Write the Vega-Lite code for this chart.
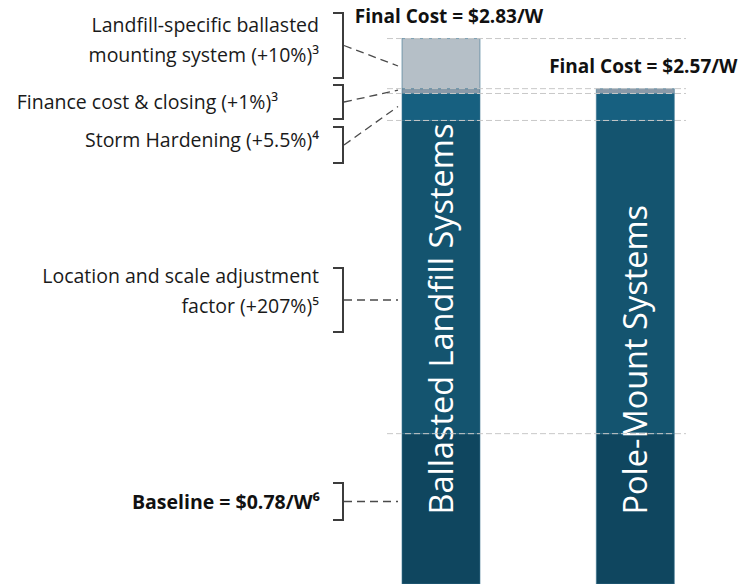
{
  "$schema": "https://vega.github.io/schema/vega-lite/v6.json",
  "width": 746,
  "height": 584,
  "padding": 0,
  "autosize": {"type": "none"},
  "background": "white",
  "config": {"view": {"stroke": null}, "font": "Open Sans"},
  "datasets": {
    "segments": [
      {"system": "Ballasted Landfill Systems", "component": "Baseline", "start": 0, "end": 0.78},
      {"system": "Ballasted Landfill Systems", "component": "Location and scale adjustment", "start": 0.78, "end": 2.405},
      {"system": "Ballasted Landfill Systems", "component": "Storm Hardening", "start": 2.405, "end": 2.545},
      {"system": "Ballasted Landfill Systems", "component": "Finance cost & closing", "start": 2.545, "end": 2.57},
      {"system": "Ballasted Landfill Systems", "component": "Landfill-specific ballasted mounting system", "start": 2.57, "end": 2.83},
      {"system": "Pole-Mount Systems", "component": "Baseline", "start": 0, "end": 0.78},
      {"system": "Pole-Mount Systems", "component": "Location and scale adjustment", "start": 0.78, "end": 2.405},
      {"system": "Pole-Mount Systems", "component": "Storm Hardening", "start": 2.405, "end": 2.545},
      {"system": "Pole-Mount Systems", "component": "Finance cost & closing", "start": 2.545, "end": 2.57}
    ],
    "systems": [
      {"system": "Ballasted Landfill Systems", "total": 2.83, "final": "Final Cost = $2.83/W"},
      {"system": "Pole-Mount Systems", "total": 2.57, "final": "Final Cost = $2.57/W"}
    ],
    "notes": [
      {"component": "Landfill-specific ballasted mounting system", "label": ["Landfill-specific ballasted", "mounting system (+10%)³"], "bold": false, "label_at": 2.894, "top": 2.9625, "bottom": 2.6253, "mid": 2.7939, "target": 2.6876},
      {"component": "Finance cost & closing", "label": ["Finance cost & closing (+1%)³"], "bold": false, "label_at": 2.4977, "top": 2.589, "bottom": 2.4126, "mid": 2.5008, "target": 2.562},
      {"component": "Storm Hardening", "label": ["Storm Hardening (+5.5%)⁴"], "bold": false, "label_at": 2.2969, "top": 2.3711, "bottom": 2.1843, "mid": 2.2777, "target": 2.4774},
      {"component": "Location and scale adjustment", "label": ["Location and scale adjustment", "factor (+207%)⁵"], "bold": false, "label_at": 1.593, "top": 1.6395, "bottom": 1.3075, "mid": 1.4735, "target": 1.4735},
      {"component": "Baseline", "label": ["Baseline = $0.78/W⁶"], "bold": true, "label_at": 0.4223, "top": 0.524, "bottom": 0.332, "mid": 0.428, "target": 0.428}
    ]
  },
  "resolve": {"scale": {"x": "independent"}},
  "layer": [
    {
      "layer": [
        {
          "data": {"name": "segments"},
          "mark": {"type": "bar", "stroke": "#3b7390", "strokeWidth": 0.6},
          "encoding": {
            "x": {"field": "system", "type": "nominal", "axis": null,
                  "scale": {"type": "band", "domain": ["Ballasted Landfill Systems", "Pole-Mount Systems"], "range": [402, 674.3], "paddingInner": 0.5986, "paddingOuter": 0}},
            "y": {"field": "start", "type": "quantitative", "axis": null, "scale": {"domain": [0, 3.03], "nice": false, "zero": true}},
            "y2": {"field": "end"},
            "color": {"field": "component", "type": "nominal", "legend": null,
                      "scale": {"domain": ["Baseline", "Location and scale adjustment", "Storm Hardening", "Finance cost & closing", "Landfill-specific ballasted mounting system"],
                                "range": ["#0f465f", "#14546f", "#176080", "#8a9aa9", "#b5bfc7"]}}
          }
        },
        {
          "data": {"name": "systems"},
          "mark": {"type": "text", "angle": 270, "align": "left", "baseline": "middle", "fontSize": 32.5, "font": "Open Sans", "color": "white", "dy": 2},
          "encoding": {
            "x": {"field": "system", "type": "nominal", "axis": null,
                  "scale": {"type": "band", "domain": ["Ballasted Landfill Systems", "Pole-Mount Systems"], "range": [402, 674.3], "paddingInner": 0.5986, "paddingOuter": 0}},
            "y": {"datum": 0.36, "type": "quantitative"},
            "text": {"field": "system"}
          }
        },
        {
          "data": {"name": "systems"},
          "mark": {"type": "text", "align": "center", "baseline": "alphabetic", "fontSize": 19, "fontWeight": "bold", "color": "#111111", "dy": -15.5, "dx": 8},
          "encoding": {
            "x": {"field": "system", "type": "nominal", "axis": null,
                  "scale": {"type": "band", "domain": ["Ballasted Landfill Systems", "Pole-Mount Systems"], "range": [402, 674.3], "paddingInner": 0.5986, "paddingOuter": 0}},
            "y": {"field": "total", "type": "quantitative"},
            "text": {"field": "final"}
          }
        }
      ]
    },
    {
      "layer": [
        {
          "data": {"name": "segments"},
          "transform": [{"filter": "datum.system === 'Ballasted Landfill Systems'"}],
          "mark": {"type": "rule", "color": "#c8c8c8", "strokeWidth": 1, "strokeDash": [6, 3]},
          "encoding": {
            "x": {"datum": 387, "type": "quantitative", "axis": null, "scale": {"domain": [0, 746], "nice": false, "zero": false}},
            "x2": {"datum": 686},
            "y": {"field": "end", "type": "quantitative"}
          }
        },
        {
          "data": {"name": "notes"},
          "mark": {"type": "rule", "color": "#3c3c3c", "strokeWidth": 2},
          "encoding": {
            "x": {"datum": 343, "type": "quantitative"},
            "y": {"field": "top", "type": "quantitative"},
            "y2": {"field": "bottom"}
          }
        },
        {
          "data": {"name": "notes"},
          "mark": {"type": "rule", "color": "#3c3c3c", "strokeWidth": 2},
          "encoding": {
            "x": {"datum": 333, "type": "quantitative"},
            "x2": {"datum": 344},
            "y": {"field": "top", "type": "quantitative"}
          }
        },
        {
          "data": {"name": "notes"},
          "mark": {"type": "rule", "color": "#3c3c3c", "strokeWidth": 2},
          "encoding": {
            "x": {"datum": 333, "type": "quantitative"},
            "x2": {"datum": 344},
            "y": {"field": "bottom", "type": "quantitative"}
          }
        },
        {
          "data": {"name": "notes"},
          "mark": {"type": "rule", "color": "#4a4a4a", "strokeWidth": 1.3, "strokeDash": [8, 5]},
          "encoding": {
            "x": {"datum": 344, "type": "quantitative"},
            "x2": {"datum": 398},
            "y": {"field": "mid", "type": "quantitative"},
            "y2": {"field": "target"}
          }
        },
        {
          "data": {"name": "notes"},
          "transform": [{"filter": "!datum.bold && datum.component !== 'Finance cost & closing'"}],
          "mark": {"type": "text", "align": "right", "baseline": "middle", "fontSize": 19.5, "lineHeight": 30, "color": "#1a1a1a"},
          "encoding": {
            "x": {"datum": 319, "type": "quantitative"},
            "y": {"field": "label_at", "type": "quantitative"},
            "text": {"field": "label"}
          }
        },
        {
          "data": {"name": "notes"},
          "transform": [{"filter": "datum.component === 'Finance cost & closing'"}],
          "mark": {"type": "text", "align": "right", "baseline": "middle", "fontSize": 19.5, "color": "#1a1a1a"},
          "encoding": {
            "x": {"datum": 278, "type": "quantitative"},
            "y": {"field": "label_at", "type": "quantitative"},
            "text": {"field": "label"}
          }
        },
        {
          "data": {"name": "notes"},
          "transform": [{"filter": "datum.bold"}],
          "mark": {"type": "text", "align": "right", "baseline": "middle", "fontSize": 19.5, "fontWeight": "bold", "color": "#111111"},
          "encoding": {
            "x": {"datum": 320, "type": "quantitative"},
            "y": {"field": "label_at", "type": "quantitative"},
            "text": {"field": "label"}
          }
        }
      ]
    }
  ]
}
